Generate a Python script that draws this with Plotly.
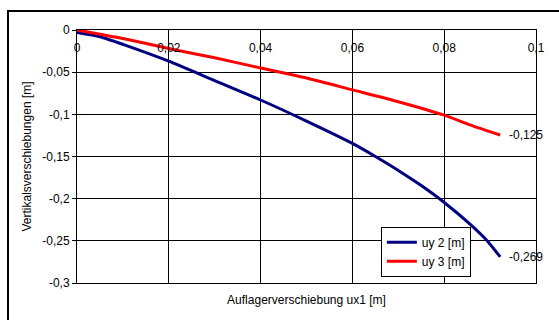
import plotly.graph_objects as go

# ---- data ----
ux1_uy2 = [0, 0.005, 0.01, 0.02, 0.03, 0.04, 0.05, 0.06, 0.065, 0.07, 0.075, 0.08, 0.0855, 0.0893, 0.0922]
uy2 = [-0.003, -0.008, -0.017, -0.037, -0.060, -0.083, -0.108, -0.1345, -0.1500, -0.1665, -0.1845, -0.2045, -0.2295, -0.2495, -0.269]

ux1_uy3 = [0, 0.005, 0.01, 0.02, 0.03, 0.04, 0.05, 0.06, 0.07, 0.08, 0.0856, 0.0922]
uy3 = [0, -0.005, -0.010, -0.022, -0.033, -0.045, -0.057, -0.071, -0.085, -0.101, -0.1125, -0.1245]

series_names = ["uy 2 [m]", "uy 3 [m]"]
end_labels = ["-0,269", "-0,125"]

x_ticks = [0, 0.02, 0.04, 0.06, 0.08, 0.1]
x_tick_labels = ["0", "0,02", "0,04", "0,06", "0,08", "0,1"]
y_ticks = [0, -0.05, -0.1, -0.15, -0.2, -0.25, -0.3]
y_tick_labels = ["0", "-0,05", "-0,1", "-0,15", "-0,2", "-0,25", "-0,3"]

x_title = "Auflagerverschiebung ux1 [m]"
y_title = "Vertikalsverschiebungen [m]"

FONT = "Liberation Sans, Arial, sans-serif"

fig = go.Figure()
fig.add_trace(go.Scatter(x=ux1_uy2, y=uy2, mode="lines", name=series_names[0],
                         line=dict(color="#000080", width=3, shape="spline", smoothing=0.6)))
fig.add_trace(go.Scatter(x=ux1_uy3, y=uy3, mode="lines", name=series_names[1],
                         line=dict(color="#FF0000", width=3, shape="spline", smoothing=0.6)))
# invisible trace to carry the top (inside) tick labels of x
fig.add_trace(go.Scatter(x=[0, 0.1], y=[0, 0], xaxis="x2", mode="lines",
                         line=dict(width=0), showlegend=False, hoverinfo="skip"))

for xs, ys, txt in ((ux1_uy2, uy2, end_labels[0]), (ux1_uy3, uy3, end_labels[1])):
    fig.add_annotation(x=xs[-1], y=ys[-1], text=txt, showarrow=False,
                       xanchor="left", yanchor="middle", xshift=7,
                       font=dict(family=FONT, size=12, color="black"))

fig.update_layout(
    width=559, height=320,
    margin=dict(l=77, r=23, t=30, b=37),
    paper_bgcolor="white", plot_bgcolor="white",
    font=dict(family=FONT, size=12, color="black"),
    showlegend=True,
    legend=dict(x=0.662, y=0.222, xanchor="left", yanchor="top",
                bgcolor="white", bordercolor="black", borderwidth=1,
                font=dict(family=FONT, size=12, color="black"),
                tracegroupgap=0, itemwidth=30),
    xaxis=dict(range=[0, 0.1], tickvals=x_ticks, ticktext=x_tick_labels,
               showticklabels=False, showgrid=True, gridcolor="black", gridwidth=1,
               showline=True, mirror=True, linecolor="black", linewidth=1,
               zeroline=False, ticks="",
               title=dict(text=x_title, standoff=12, font=dict(size=12))),
    xaxis2=dict(range=[0, 0.1], overlaying="x", anchor="free", position=0.965,
                side="bottom", tickvals=x_ticks, ticktext=x_tick_labels,
                showgrid=False, showline=False, zeroline=False, ticks="",
                tickfont=dict(size=12, color="black")),
    yaxis=dict(range=[-0.3, 0], tickvals=y_ticks, ticktext=y_tick_labels,
               showgrid=True, gridcolor="black", gridwidth=1,
               showline=True, mirror=True, linecolor="black", linewidth=1,
               zeroline=False, ticks="outside", ticklen=4, tickcolor="black",
               title=dict(text=y_title, standoff=8, font=dict(size=12))),
)

# outer chart frame
fig.add_shape(type="rect", xref="paper", yref="paper",
              x0=(8 - 77) / 459, x1=(575 - 77) / 459,
              y0=(283 - 335) / 253, y1=(283 - 11) / 253,
              line=dict(color="black", width=2), fillcolor="rgba(0,0,0,0)", layer="above")

fig.write_html("out.html", config={"displayModeBar": False},
               post_script="document.body.style.margin='0';document.body.style.overflow='hidden';")
